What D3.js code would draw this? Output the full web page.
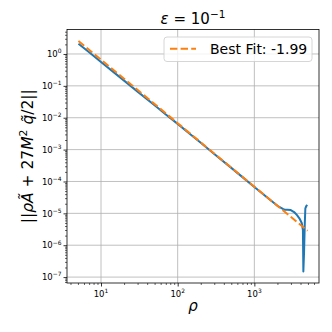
<!DOCTYPE html>
<html>
<head>
<meta charset="utf-8">
<script src="https://cdn.jsdelivr.net/npm/d3@7"></script>
<style>
  html, body { margin: 0; padding: 0; background: #fff; }
  text { font-family: "DejaVu Sans", sans-serif; }
</style>
</head>
<body>
<svg id="chart" width="332" height="332"></svg>
<script>
// ---- data ----
const rhoBlue = [5.08, 7, 10, 15, 20, 30, 50, 70, 100, 150, 200, 300, 500, 700, 1000, 1500, 2000,
                 2390, 2500, 2700, 2985, 3300, 3600, 3865, 4150, 4300, 4355, 4450, 4550, 4625, 4760, 4910];
const normBlue = [2.1, 1.13, 0.56, 0.255, 0.146, 0.066, 0.0245, 0.0127, 0.0064, 0.00288, 0.00163, 7.3e-4,
                  2.67e-4, 1.37e-4, 6.75e-5, 3.05e-5, 1.72e-5,
                  1.36e-5, 1.3e-5, 1.3e-5, 1.27e-5, 1.1e-5, 8.8e-6, 7.0e-6, 5.0e-6, 3.0e-6, 1.5e-7, 6e-7, 5e-6, 1.44e-5, 1.7e-5, 1.82e-5];
const rhoFit = [5.08, 4940];
const normFit = [2.55, 2.85e-6];
const fitLabel = "Best Fit: -1.99";
const xTickExps = [1, 2, 3];
const yTickExps = [0, -1, -2, -3, -4, -5, -6, -7];

// ---- layout ----
const L = 67, R = 319, T = 29.5, B = 283;
const svg = d3.select("#chart");

function padLog(vals) {
  const lo = Math.log10(d3.min(vals)), hi = Math.log10(d3.max(vals));
  const p = (hi - lo) * 0.05;
  return [Math.pow(10, lo - p), Math.pow(10, hi + p)];
}
const allX = rhoBlue.concat(rhoFit), allY = normBlue.concat(normFit);
const x = d3.scaleLog().domain(padLog(allX)).range([L, R]);
const y = d3.scaleLog().domain(padLog(allY)).range([B, T]);

// grid
const g = svg.append("g");
xTickExps.forEach(e => {
  const px = x(Math.pow(10, e));
  g.append("line").attr("x1", px).attr("x2", px).attr("y1", T).attr("y2", B)
    .attr("stroke", "#b0b0b0").attr("stroke-width", 0.8);
});
yTickExps.forEach(e => {
  const py = y(Math.pow(10, e));
  g.append("line").attr("x1", L).attr("x2", R).attr("y1", py).attr("y2", py)
    .attr("stroke", "#b0b0b0").attr("stroke-width", 0.8);
});

// clip
svg.append("clipPath").attr("id", "clip").append("rect")
  .attr("x", L).attr("y", T).attr("width", R - L).attr("height", B - T);

const line = d3.line().x(d => x(d[0])).y(d => y(d[1]));
svg.append("path").attr("clip-path", "url(#clip)")
  .datum(rhoBlue.map((r, i) => [r, normBlue[i]]))
  .attr("d", line).attr("fill", "none").attr("stroke", "#1f77b4")
  .attr("stroke-width", 2).attr("stroke-linejoin", "round").attr("stroke-linecap", "butt");
svg.append("path").attr("clip-path", "url(#clip)")
  .datum(rhoFit.map((r, i) => [r, normFit[i]]))
  .attr("d", line).attr("fill", "none").attr("stroke", "#ff7f0e")
  .attr("stroke-width", 2).attr("stroke-dasharray", "7.4,3.2");

// axes
const isMajor = d => Math.abs(Math.log10(d) - Math.round(Math.log10(d))) < 1e-9;
const xAxis = d3.axisBottom(x).tickValues(
  d3.range(0, 5).flatMap(e => d3.range(1, 10).map(m => m * Math.pow(10, e)))
    .filter(v => v >= x.domain()[0] && v <= x.domain()[1])
).tickFormat("").tickSizeOuter(0);
const yAxis = d3.axisLeft(y).tickValues(
  d3.range(-8, 2).flatMap(e => d3.range(1, 10).map(m => m * Math.pow(10, e)))
    .filter(v => v >= y.domain()[0] && v <= y.domain()[1])
).tickFormat("").tickSizeOuter(0);

const gx = svg.append("g").attr("transform", `translate(0,${B})`).call(xAxis);
const gy = svg.append("g").attr("transform", `translate(${L},0)`).call(yAxis);
[gx, gy].forEach(sel => {
  sel.select(".domain").remove();
  sel.selectAll(".tick line").attr("stroke", "#000").attr("stroke-width", d => isMajor(d) ? 0.8 : 0.6);
});
gx.selectAll(".tick line").attr("y2", d => isMajor(d) ? 3.5 : 2);
gy.selectAll(".tick line").attr("x2", d => isMajor(d) ? -3.5 : -2);

// frame
svg.append("rect").attr("x", L).attr("y", T).attr("width", R - L).attr("height", B - T)
  .attr("fill", "none").attr("stroke", "#000").attr("stroke-width", 0.8);

// tick labels
const tickFs = 8.5;
xTickExps.forEach(e => {
  const t = svg.append("text").attr("x", x(Math.pow(10, e))).attr("y", 297)
    .attr("text-anchor", "middle").attr("font-size", tickFs).attr("fill", "#000");
  t.append("tspan").text("10");
  t.append("tspan").attr("dy", -3.8).attr("font-size", tickFs * 0.7).text(String(e).replace("-", "\u2212"));
});
yTickExps.forEach(e => {
  const t = svg.append("text").attr("x", 61.5).attr("y", y(Math.pow(10, e)) + 3.2)
    .attr("text-anchor", "end").attr("font-size", tickFs).attr("fill", "#000");
  t.append("tspan").text("10");
  t.append("tspan").attr("dy", -3.8).attr("font-size", tickFs * 0.7).text(String(e).replace("-", "\u2212"));
});

// title
const titleFs = 15;
const title = svg.append("text").attr("x", (L + R) / 2).attr("y", 23.5)
  .attr("text-anchor", "middle").attr("font-size", titleFs).attr("fill", "#000");
title.append("tspan").attr("font-style", "italic").text("\u03b5");
title.append("tspan").text(" = 10");
title.append("tspan").attr("dy", -6).attr("font-size", titleFs * 0.7).text("\u22121");

// x label
svg.append("text").attr("x", (L + R) / 2).attr("y", 311).attr("text-anchor", "middle")
  .attr("font-size", 15).attr("font-style", "italic").attr("fill", "#000").text("\u03c1");

// y label
const ylFs = 15.5;
const yl = svg.append("text").attr("transform", `translate(33,${(T + B) / 2}) rotate(-90)`)
  .attr("text-anchor", "middle").attr("font-size", ylFs).attr("fill", "#000");
yl.append("tspan").text("||");
yl.append("tspan").attr("font-style", "italic").text("\u03c1\u00c3");
yl.append("tspan").text(" + 27");
yl.append("tspan").attr("font-style", "italic").text("M");
yl.append("tspan").attr("dy", -6).attr("font-size", ylFs * 0.7).text("2");
yl.append("tspan").attr("dy", 6).attr("font-style", "italic").text(" q\u0303");
yl.append("tspan").text("/2||");

// legend
svg.append("rect").attr("x", 164).attr("y", 37).attr("width", 148).attr("height", 24.5)
  .attr("rx", 3).attr("fill", "#fff").attr("fill-opacity", 0.8)
  .attr("stroke", "#cccccc").attr("stroke-width", 0.8);
svg.append("line").attr("x1", 170).attr("x2", 196).attr("y1", 48.7).attr("y2", 48.7)
  .attr("stroke", "#ff7f0e").attr("stroke-width", 2).attr("stroke-dasharray", "7.4,3.2");
svg.append("text").attr("x", 210).attr("y", 54).attr("font-size", 14).attr("fill", "#000").text(fitLabel);
</script>
</body>
</html>
